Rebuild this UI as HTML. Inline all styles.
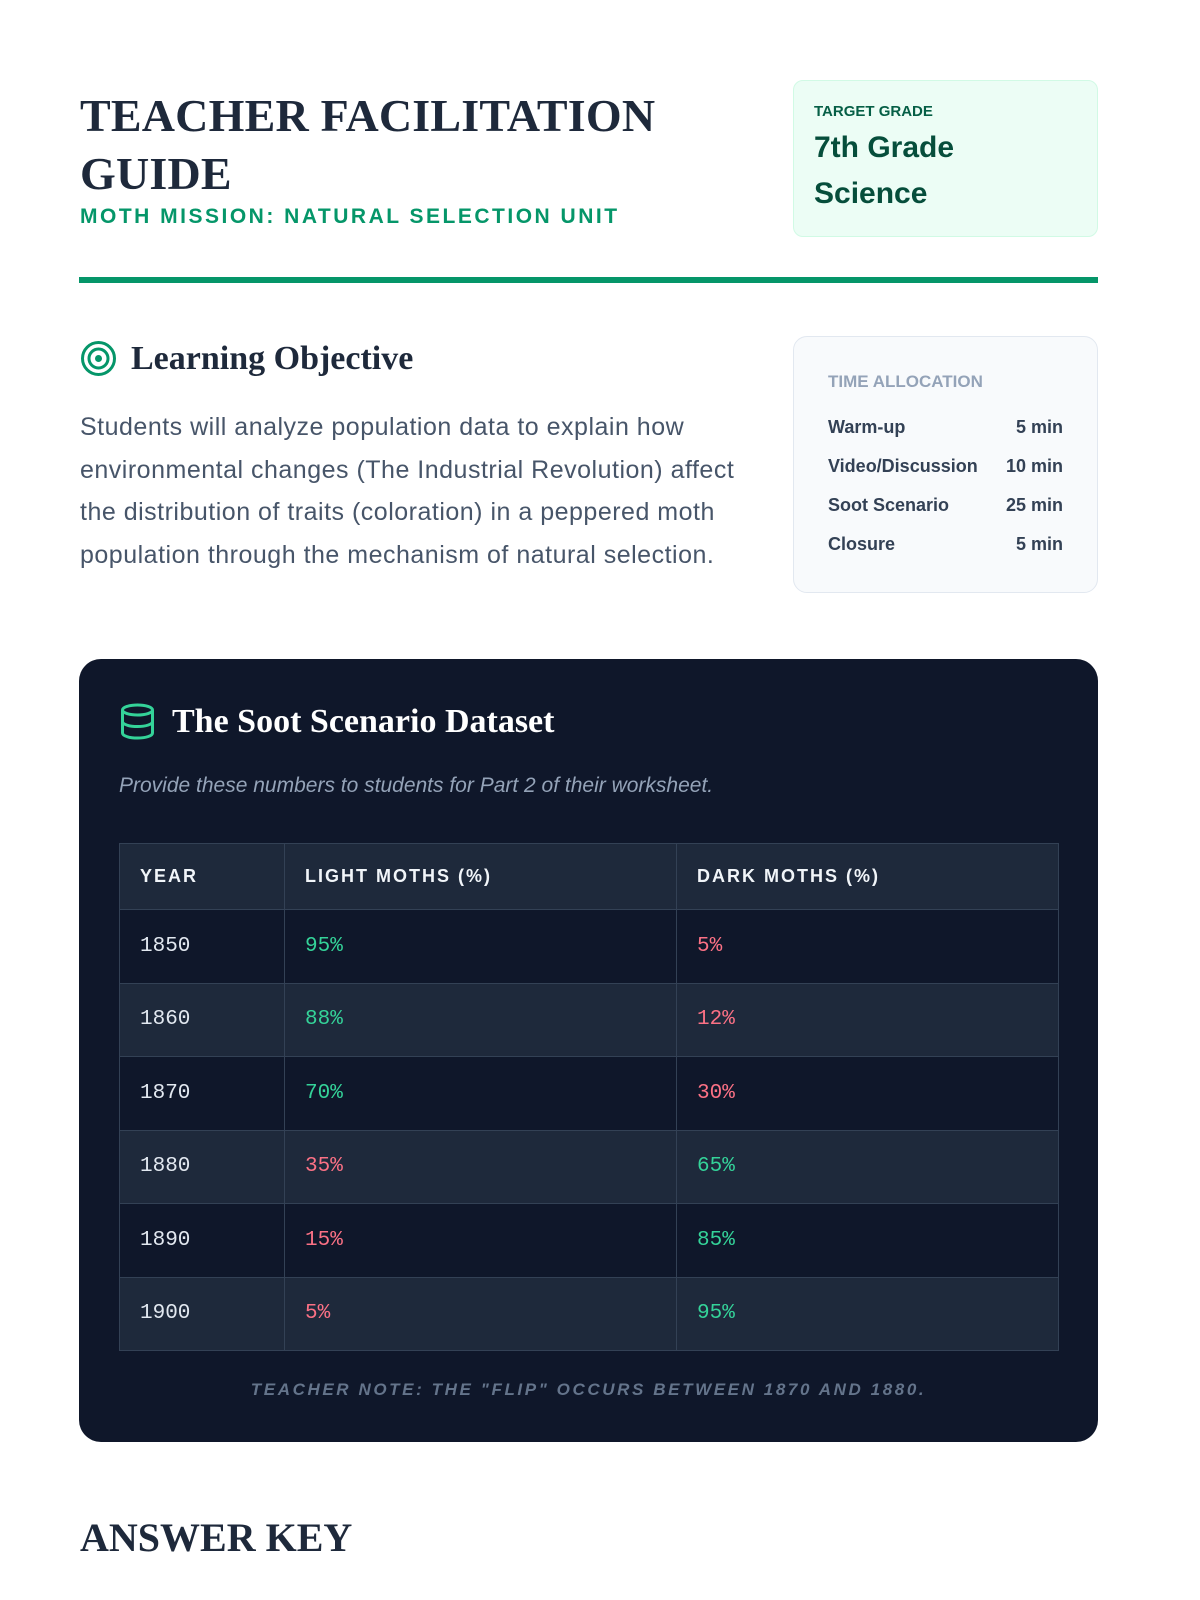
<!DOCTYPE html>
<html><head><meta charset="utf-8"><style>
*{margin:0;padding:0;box-sizing:border-box}
body{width:1200px;height:1600px;background:#fff;position:relative;overflow:hidden;font-family:"Liberation Sans",sans-serif}
.a{position:absolute;white-space:nowrap}
.serif{font-family:"Liberation Serif",serif;font-weight:bold}
.mono{font-family:"Liberation Mono",monospace}
table{position:absolute;left:119px;top:843px;width:940px;border-collapse:collapse}
td,th{border:1px solid #334155;text-align:left;padding:0 0 0 20px}
th{height:66px;background:#1e293b;color:#f1f5f9;font-size:18px;font-weight:bold;letter-spacing:2px}
td{height:73.5px;font-family:"Liberation Mono",monospace;font-size:21px;color:#e2e8f0}
tr.o td{background:#0f172a}tr.e td{background:#1e293b}
.g{color:#34d399!important}.r{color:#fb7185!important}
.tr{position:absolute;left:34px;right:34px;font-size:18px;font-weight:bold;color:#334155;display:flex;justify-content:space-between}
</style></head><body>
<div class="a serif" style="left:80px;top:87px;font-size:46px;line-height:58px;color:#1e293b;letter-spacing:0.2px">TEACHER FACILITATION<br>GUIDE</div>
<div class="a" style="left:80px;top:205px;font-size:21px;font-weight:bold;color:#059669;letter-spacing:2.5px">MOTH MISSION: NATURAL SELECTION UNIT</div>
<div class="a" style="left:793px;top:80px;width:305px;height:157px;background:#ecfdf5;border:1px solid #d1fae5;border-radius:10px">
 <div class="a" style="left:20px;top:22px;font-size:15px;font-weight:bold;color:#065f46">TARGET GRADE</div>
 <div class="a" style="left:20px;top:44px;font-size:30px;line-height:46px;font-weight:bold;color:#064e3b">7th Grade<br>Science</div>
</div>
<div class="a" style="left:79px;top:277px;width:1019px;height:6px;background:#059669"></div>
<svg class="a" style="left:80px;top:340px" width="37" height="37" viewBox="0 0 37 37"><circle cx="18.5" cy="18.5" r="16" fill="none" stroke="#059669" stroke-width="3"/><circle cx="18.5" cy="18.5" r="9.5" fill="none" stroke="#059669" stroke-width="3"/><circle cx="18.5" cy="18.5" r="3.5" fill="#059669"/></svg>
<div class="a serif" style="left:131px;top:340px;font-size:34px;color:#1e293b">Learning Objective</div>
<div class="a" style="left:80px;top:406px;font-size:25px;letter-spacing:0.5px;line-height:42.5px;color:#475569">Students will analyze population data to explain how<br>environmental changes (The Industrial Revolution) affect<br>the distribution of traits (coloration) in a peppered moth<br>population through the mechanism of natural selection.</div>
<div class="a" style="left:793px;top:336px;width:305px;height:257px;background:#f8fafc;border:1px solid #e2e8f0;border-radius:14px">
 <div class="a" style="left:34px;top:35px;font-size:17px;font-weight:bold;color:#94a3b8">TIME ALLOCATION</div>
 <div class="tr" style="top:80px"><span>Warm-up</span><span>5 min</span></div>
 <div class="tr" style="top:119px"><span>Video/Discussion</span><span>10 min</span></div>
 <div class="tr" style="top:158px"><span>Soot Scenario</span><span>25 min</span></div>
 <div class="tr" style="top:197px"><span>Closure</span><span>5 min</span></div>
</div>
<div class="a" style="left:79px;top:659px;width:1019px;height:783px;background:#0f172a;border-radius:22px"></div>
<svg class="a" style="left:120px;top:703px" width="35" height="37" viewBox="0 0 35 37"><ellipse cx="17.5" cy="7" rx="15" ry="5" fill="none" stroke="#34d399" stroke-width="3"/><path d="M2.5 7v23c0 3 7 5 15 5s15-2 15-5V7M2.5 18.5c0 3 7 5 15 5s15-2 15-5" fill="none" stroke="#34d399" stroke-width="3"/></svg>
<div class="a serif" style="left:172px;top:703px;font-size:34px;color:#fff">The Soot Scenario Dataset</div>
<div class="a" style="left:119px;top:774px;font-size:21px;font-style:italic;color:#94a3b8">Provide these numbers to students for Part 2 of their worksheet.</div>
<table>
<tr><th style="width:165px">YEAR</th><th style="width:392px">LIGHT MOTHS (%)</th><th>DARK MOTHS (%)</th></tr>
<tr class="o"><td>1850</td><td class="g">95%</td><td class="r">5%</td></tr>
<tr class="e"><td>1860</td><td class="g">88%</td><td class="r">12%</td></tr>
<tr class="o"><td>1870</td><td class="g">70%</td><td class="r">30%</td></tr>
<tr class="e"><td>1880</td><td class="r">35%</td><td class="g">65%</td></tr>
<tr class="o"><td>1890</td><td class="r">15%</td><td class="g">85%</td></tr>
<tr class="e"><td>1900</td><td class="r">5%</td><td class="g">95%</td></tr>
</table>
<div class="a" style="left:79px;width:1019px;top:1380px;text-align:center;font-size:17px;font-style:italic;font-weight:bold;letter-spacing:2.6px;color:#64748b">TEACHER NOTE: THE "FLIP" OCCURS BETWEEN 1870 AND 1880.</div>
<div class="a serif" style="left:80px;top:1514px;font-size:40px;color:#1e293b">ANSWER KEY</div>
</body></html>
